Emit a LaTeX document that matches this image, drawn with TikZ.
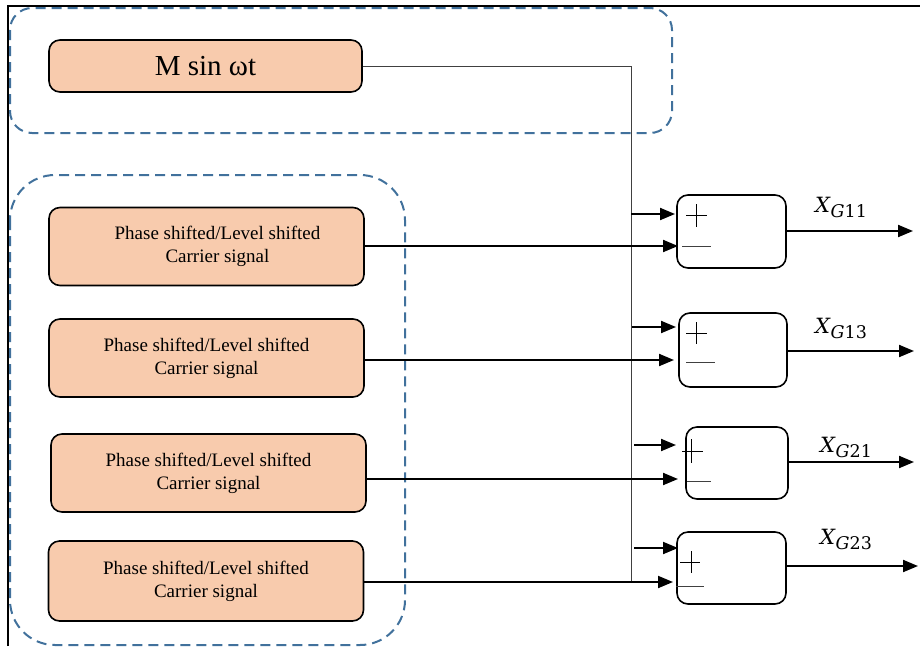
\documentclass[tikz,border=0pt]{standalone}
\usepackage{fontspec}
\setmainfont{Liberation Serif}
\newfontfamily\labelfont{DejaVu Serif}
\usetikzlibrary{arrows.meta}
\definecolor{peach}{HTML}{F8CBAD}
\definecolor{grpblue}{HTML}{41719C}
\definecolor{wire}{HTML}{404040}
% gate signal name: italic X with a big lowered subscript (italic letter, upright digits)
\newcommand{\gatename}[2]{{\labelfont\fontsize{21}{24}\selectfont\itshape X}\kern0.5pt%
  \raisebox{-5.5pt}{\labelfont\fontsize{17.5}{19}\selectfont\itshape #1\upshape #2}}
\tikzset{
  frameline/.style={line width=1.5pt, black},
  grp/.style={draw=grpblue, line width=2pt, dash pattern=on 10pt off 6pt},
  srcbox/.style={draw=black, line width=1.6pt, fill=peach, rounded corners=11pt, inner sep=0pt, align=center},
  carrier/.style={srcbox, minimum width=315pt, minimum height=78pt, font=\fontsize{19}{23}\selectfont},
  cmpbox/.style={draw=black, line width=1.6pt, fill=white, rounded corners=11pt, inner sep=0pt},
  arr/.style={line width=2pt, -{Triangle[length=15pt,width=12pt]}},
  busline/.style={line width=0.9pt, wire},
  sign/.style={line width=1pt, black},
  outlabel/.style={anchor=base west, inner sep=0pt},
}
\begin{document}
\begin{tikzpicture}[x=1pt, y=-1pt]
\useasboundingbox (0,0) rectangle (920,646);

% outer frame (left and top edges)
\draw[frameline] (8,646) -- (8,6) -- (920,6);

% dashed group outlines
\draw[grp, rounded corners=22pt] (10,8) rectangle (672,133);
\draw[grp, rounded corners=45pt] (10,175) rectangle (405,645);

% modulating signal
\node[srcbox, minimum width=313pt, minimum height=52pt, font=\fontsize{29}{32}\selectfont]
  (msin) at (205.5,66) {M sin ωt};

% carrier sources
\node[carrier] (car1) at (206.5,246.5) {\hspace*{22pt}Phase shifted/Level shifted\\\hspace*{22pt}Carrier signal};
\node[carrier] (car2) at (206.5,358) {Phase shifted/Level shifted\\Carrier signal};
\node[carrier] (car3) at (208.5,473) {Phase shifted/Level shifted\\Carrier signal};
\node[carrier, minimum height=80pt] (car4) at (206,581) {Phase shifted/Level shifted\\Carrier signal};

% comparators
\node[cmpbox, minimum width=109pt, minimum height=73pt] (k1) at (731.5,231.5) {};
\node[cmpbox, minimum width=108pt, minimum height=74pt] (k2) at (733,350) {};
\node[cmpbox, minimum width=102pt, minimum height=72pt] (k3) at (737,463) {};
\node[cmpbox, minimum width=109pt, minimum height=72pt] (k4) at (731.5,568) {};

% input and output points
\coordinate (bus) at (631,66);
\coordinate (p1) at (675,214);
\coordinate (p2) at (676,327);
\coordinate (p3) at (676,445);
\coordinate (p4) at (678,548);
\coordinate (n1) at (678,246);
\coordinate (n2) at (674,360);
\coordinate (n3) at (678,479);
\coordinate (n4) at (673,582);
\coordinate (o1) at (913,231);
\coordinate (o2) at (914,351);
\coordinate (o3) at (914,462);
\coordinate (o4) at (918,566);

% modulating signal bus
\draw[busline] (msin.east |- bus) -- (bus) -- (bus |- n4);

% modulating signal to the + inputs
\draw[arr] (bus |- p1) -- (p1);
\draw[arr] ([xshift=1pt]bus |- p2) -- (p2);
\draw[arr] ([xshift=3pt]bus |- p3) -- (p3);
\draw[arr] ([xshift=3pt]bus |- p4) -- (p4);

% carriers to the - inputs
\draw[arr] (car1.east |- n1) -- (n1);
\draw[arr] (car2.east |- n2) -- (n2);
\draw[arr] (car3.east |- n3) -- (n3);
\draw[arr] (car4.east |- n4) -- (n4);

% gate signal outputs
\draw[arr] (k1.east |- o1) -- (o1);
\draw[arr] (k2.east |- o2) -- (o2);
\draw[arr] (k3.east |- o3) -- (o3);
\draw[arr] (k4.east |- o4) -- (o4);

% + and - marks
\draw[sign] (686,215) -- (707,215) (696.5,204) -- (696.5,227);
\draw[sign, wire] (682,246) -- (711,246);
\draw[sign] (686,333) -- (707,333) (696.5,322) -- (696.5,344);
\draw[sign, wire] (686,362) -- (715,362);
\draw[sign] (682,451) -- (703,451) (691,439) -- (691,463);
\draw[sign, wire] (687,481) -- (711,481);
\draw[sign] (680,562) -- (700,562) (691,551) -- (691,573);
\draw[sign, wire] (676,586) -- (704,586);

% output labels
\node[outlabel] (l1) at (815,212) {\gatename{G}{11}};
\node[outlabel] (l2) at (815,333) {\gatename{G}{13}};
\node[outlabel] (l3) at (820,452) {\gatename{G}{21}};
\node[outlabel] (l4) at (820,544) {\gatename{G}{23}};
\end{tikzpicture}
\end{document}
